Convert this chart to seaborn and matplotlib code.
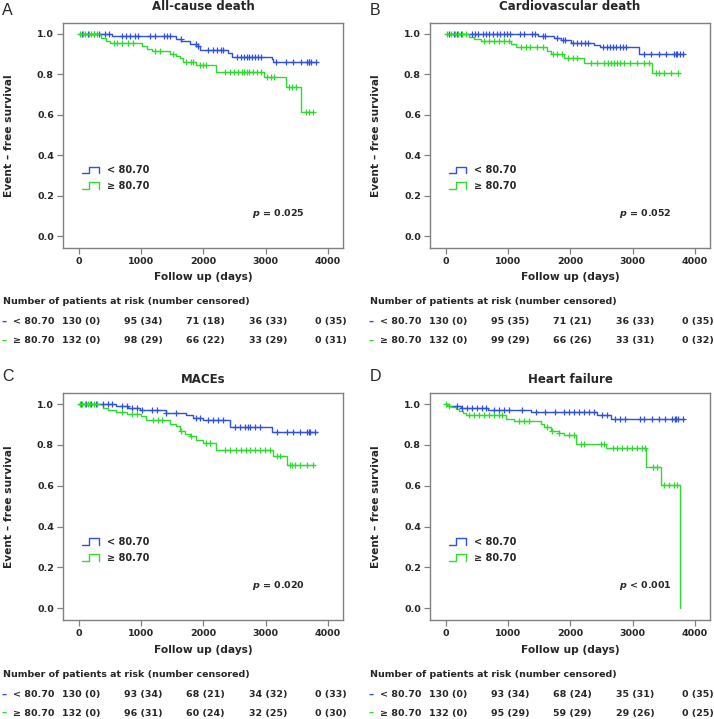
import numpy as np
import matplotlib
matplotlib.use("Agg")
import matplotlib.pyplot as plt
import matplotlib.transforms as mtransforms
from matplotlib.lines import Line2D
from matplotlib.legend_handler import HandlerBase
import seaborn as sns

# ==========================================
# DATA
# ==========================================

groups = ["< 80.70", "\u2265 80.70"]
x_ticks = [0, 1000, 2000, 3000, 4000]
y_ticks = [0.0, 0.2, 0.4, 0.6, 0.8, 1.0]

titles = ["All-cause death", "Cardiovascular death", "MACEs", "Heart failure"]
letters = ["A", "B", "C", "D"]
p_texts = ["= 0.025", "= 0.052", "= 0.020", "< 0.001"]

# --- A: all-cause death ---
a_lo_t = [0, 540, 1560, 1650, 1780, 1890, 1950, 2400, 2460, 3095, 3120]
a_lo_s = [1.0, 0.99, 0.977, 0.966, 0.95, 0.94, 0.921, 0.905, 0.887, 0.875, 0.862]
a_lo_end = 3818
a_lo_cens = [60, 150, 250, 330, 420, 480, 700, 760, 830, 900, 960, 1150, 1220,
             1370, 1420, 1460, 1640, 1880, 1910, 2080, 2150, 2220, 2280, 2310,
             2540, 2600, 2650, 2700, 2730, 2780, 2830, 2880, 2920, 3170, 3330,
             3440, 3560, 3660, 3690, 3700, 3720, 3800]
a_hi_t = [0, 360, 440, 500, 1010, 1100, 1180, 1460, 1570, 1620, 1680, 1890,
          2200, 2980, 3330, 3570]
a_hi_s = [1.0, 0.982, 0.966, 0.957, 0.941, 0.925, 0.917, 0.9, 0.892, 0.88,
          0.862, 0.846, 0.81, 0.785, 0.736, 0.616]
a_hi_end = 3764
a_hi_cens = [20, 70, 110, 160, 200, 240, 290, 560, 620, 700, 790, 880, 1230,
             1300, 1520, 1720, 1800, 1840, 1940, 2000, 2040, 2350, 2420, 2490,
             2560, 2620, 2660, 2700, 2740, 2800, 2860, 2920, 3020, 3080, 3140,
             3380, 3430, 3490, 3640, 3700, 3760]
a_lo_risk = [130, 95, 71, 36, 0]
a_lo_cen = [0, 34, 18, 33, 35]
a_hi_risk = [132, 98, 66, 33, 0]
a_hi_cen = [0, 29, 22, 29, 31]

# --- B: cardiovascular death ---
b_lo_t = [0, 1480, 1740, 1850, 2010, 2380, 2470, 3100]
b_lo_s = [1.0, 0.99, 0.98, 0.969, 0.957, 0.945, 0.933, 0.903]
b_lo_end = 3819
b_lo_cens = [60, 130, 190, 250, 420, 470, 520, 600, 650, 700, 760, 820, 880,
             940, 990, 1030, 1190, 1250, 1390, 1440, 1560, 1600, 1780, 1880,
             1920, 2050, 2110, 2170, 2230, 2290, 2530, 2590, 2640, 2690, 2740,
             2800, 2850, 2900, 3180, 3300, 3420, 3540, 3660, 3690, 3710, 3760,
             3800]
b_hi_t = [0, 380, 460, 560, 1045, 1125, 1632, 1685, 1899, 2219, 3312]
b_hi_s = [1.0, 0.985, 0.974, 0.966, 0.949, 0.935, 0.916, 0.9, 0.883, 0.856,
          0.806]
b_hi_end = 3765
b_hi_cens = [30, 90, 150, 200, 260, 320, 620, 700, 780, 860, 940, 1010, 1210,
             1290, 1350, 1470, 1560, 1720, 1790, 1870, 1960, 2040, 2110, 2330,
             2430, 2540, 2600, 2650, 2700, 2750, 2800, 2860, 2960, 3070, 3180,
             3260, 3380, 3420, 3500, 3610, 3720]
b_lo_risk = [130, 95, 71, 36, 0]
b_lo_cen = [0, 35, 21, 33, 35]
b_hi_risk = [132, 99, 66, 33, 0]
b_hi_cen = [0, 29, 26, 31, 32]

# --- C: MACEs ---
c_lo_t = [0, 600, 800, 980, 1400, 1730, 1840, 2000, 2430, 3095]
c_lo_s = [1.0, 0.988, 0.98, 0.969, 0.956, 0.944, 0.933, 0.92, 0.889, 0.865]
c_lo_end = 3818
c_lo_cens = [40, 120, 200, 280, 390, 470, 540, 690, 770, 850, 930, 1010, 1170,
             1250, 1400, 1570, 1890, 1950, 2080, 2160, 2240, 2320, 2510, 2590,
             2670, 2720, 2750, 2830, 2910, 3180, 3340, 3440, 3550, 3660, 3690,
             3710, 3790]
c_hi_t = [0, 390, 470, 600, 770, 1007, 1087, 1462, 1569, 1622, 1703, 1783,
          1890, 1997, 2211, 3122, 3336]
c_hi_s = [1.0, 0.982, 0.969, 0.961, 0.953, 0.939, 0.92, 0.904, 0.89, 0.87,
          0.854, 0.841, 0.825, 0.808, 0.777, 0.747, 0.701]
c_hi_end = 3791
c_hi_cens = [20, 60, 100, 150, 190, 250, 300, 690, 850, 930, 1200, 1270, 1330,
             1640, 1810, 2050, 2100, 2350, 2430, 2530, 2610, 2690, 2750, 2830,
             2910, 2990, 3070, 3180, 3230, 3390, 3420, 3470, 3550, 3660, 3760]
c_lo_risk = [130, 93, 68, 34, 0]
c_lo_cen = [0, 34, 21, 32, 33]
c_hi_risk = [132, 96, 60, 32, 0]
c_hi_cen = [0, 31, 24, 25, 30]

# --- D: heart failure ---
d_lo_t = [0, 60, 150, 250, 680, 1370, 2430, 2660]
d_lo_s = [1.0, 0.992, 0.988, 0.982, 0.972, 0.961, 0.944, 0.925]
d_lo_end = 3819
d_lo_cens = [190, 270, 350, 430, 510, 590, 640, 780, 860, 940, 1020, 1230,
             1450, 1600, 1760, 1900, 1980, 2060, 2140, 2220, 2300, 2380, 2510,
             2590, 2720, 2800, 2880, 3120, 3180, 3310, 3420, 3520, 3630, 3680,
             3700, 3720, 3800]
d_hi_t = [0, 29, 85, 165, 219, 272, 325, 965, 1099, 1525, 1579, 1685, 1819,
          1899, 2085, 2580, 3221, 3456, 3760]
d_hi_s = [1.0, 0.992, 0.984, 0.975, 0.967, 0.954, 0.944, 0.928, 0.916, 0.9,
          0.887, 0.87, 0.857, 0.846, 0.805, 0.785, 0.69, 0.605, 0.0]
d_hi_end = 3760
d_hi_cens = [10, 60, 380, 460, 540, 620, 700, 780, 860, 910, 1180, 1260, 1340,
             1630, 1710, 1820, 1980, 2060, 2170, 2220, 2490, 2540, 2680, 2750,
             2830, 2910, 2990, 3070, 3150, 3200, 3330, 3390, 3500, 3580, 3660,
             3710]
d_lo_risk = [130, 93, 68, 35, 0]
d_lo_cen = [0, 34, 24, 31, 35]
d_hi_risk = [132, 95, 59, 29, 0]
d_hi_cen = [0, 29, 29, 26, 25]

panels = [
    [(a_lo_t, a_lo_s, a_lo_end, a_lo_cens, a_lo_risk, a_lo_cen),
     (a_hi_t, a_hi_s, a_hi_end, a_hi_cens, a_hi_risk, a_hi_cen)],
    [(b_lo_t, b_lo_s, b_lo_end, b_lo_cens, b_lo_risk, b_lo_cen),
     (b_hi_t, b_hi_s, b_hi_end, b_hi_cens, b_hi_risk, b_hi_cen)],
    [(c_lo_t, c_lo_s, c_lo_end, c_lo_cens, c_lo_risk, c_lo_cen),
     (c_hi_t, c_hi_s, c_hi_end, c_hi_cens, c_hi_risk, c_hi_cen)],
    [(d_lo_t, d_lo_s, d_lo_end, d_lo_cens, d_lo_risk, d_lo_cen),
     (d_hi_t, d_hi_s, d_hi_end, d_hi_cens, d_hi_risk, d_hi_cen)],
]

# ==========================================
# STYLE
# ==========================================

sns.set_style("white")
plt.rcParams['font.family'] = ['DejaVu Sans']
plt.rcParams['mathtext.fontset'] = 'dejavusans'

colors = ["#3050E0", "#2EDC2E"]
GRAY = "#808080"
FS = 6.8


class StepKey(HandlerBase):
    # little step-shaped legend key, like the R survival plot
    def create_artists(self, legend, orig_handle, xdescent, ydescent,
                       width, height, fontsize, trans):
        x0, y0 = -xdescent, -ydescent
        xm = x0 + 0.38 * width
        xs = [x0, xm, xm, x0 + width, x0 + width]
        ys = [y0, y0, y0 + height, y0 + height, y0]
        return [Line2D(xs, ys, color=orig_handle.get_color(), lw=1.0,
                       transform=trans)]


def km_curve(ax, times, surv, end, cens, color):
    t = list(times) + [end]
    s = list(surv) + [surv[-1]]
    sns.lineplot(x=t, y=s, drawstyle='steps-post', color=color, lw=1.0,
                 estimator=None, sort=False, legend=False, ax=ax)
    idx = np.searchsorted(times, cens, side='right') - 1
    cy = np.array(surv)[idx]
    sns.scatterplot(x=cens, y=cy, marker='+', color=color, s=20,
                    linewidth=0.9, legend=False, ax=ax, zorder=3)


# ==========================================
# FIGURE
# ==========================================

fig = plt.figure(figsize=(7.14, 7.19), dpi=100)

col_left = [63 / 714, 430 / 714]
ax_w = 280 / 714
row_bottom = [1 - 248 / 719, 1 - 620 / 719]
row_h = [225 / 719, 227 / 719]
title_pad = [9.0, 7.5]
letter_y = [1 - 15 / 719, 1 - 381 / 719]
letter_x = [2 / 714, 370 / 714]

for i, panel in enumerate(panels):
    r, c = divmod(i, 2)
    ax = fig.add_axes([col_left[c], row_bottom[r], ax_w, row_h[r]])

    for g, (t, s, end, cens, risk, cen) in enumerate(panel):
        km_curve(ax, t, s, end, cens, colors[g])

    ax.set_xlim(-250, 4240)
    ax.set_ylim(-0.058, 1.054)
    ax.set_xticks(x_ticks)
    ax.set_yticks(y_ticks)
    ax.set_xticklabels([str(v) for v in x_ticks], fontsize=FS, fontweight='bold')
    ax.set_yticklabels(["%.1f" % v for v in y_ticks], fontsize=FS, fontweight='bold')
    ax.tick_params(direction='out', length=4, width=0.9, color=GRAY, pad=2.5,
                   bottom=True, left=True)
    for sp in ax.spines.values():
        sp.set_color(GRAY)
        sp.set_linewidth(1.0)

    ax.set_xlabel("Follow up (days)", fontsize=7.7, fontweight='bold')
    ax.set_ylabel("Event \u2013 free survival", fontsize=7.7, fontweight='bold')
    ax.xaxis.set_label_coords(0.5, -0.108)
    ax.yaxis.set_label_coords(-0.176, 0.5)
    ax.set_title(titles[i], fontsize=8.5, fontweight='bold', pad=title_pad[r])

    fig.text(letter_x[c], letter_y[r], letters[i], fontsize=11.5,
             family='Liberation Sans', va='baseline', ha='left')

    # legend with step keys
    handles = [Line2D([], [], color=col) for col in colors]
    ax.legend(handles, groups, handler_map={Line2D: StepKey()},
              loc='center left', bbox_to_anchor=(0.068, 0.31),
              frameon=False, prop={'weight': 'bold', 'size': 7},
              handlelength=1.75, handleheight=0.7, handletextpad=0.8,
              labelspacing=0.6, borderpad=0, borderaxespad=0)

    ax.text(0.675, 0.152, r"$\mathbfit{p}$ " + p_texts[i],
            transform=ax.transAxes, fontsize=FS, fontweight='bold',
            va='center', ha='left')

    # number at risk table
    tr = mtransforms.blended_transform_factory(ax.transData, ax.transAxes)
    ax.text(-0.214, -0.24, "Number of patients at risk (number censored)",
            transform=ax.transAxes, fontsize=FS, fontweight='bold',
            va='center', ha='left')
    row_y = [-0.328, -0.41]
    for g, (t, s, end, cens, risk, cen) in enumerate(panel):
        ax.text(-0.218, row_y[g], "\u2013", transform=ax.transAxes,
                fontsize=7.5, fontweight='bold', color=colors[g],
                va='center', ha='left')
        ax.text(-0.179, row_y[g], groups[g], transform=ax.transAxes,
                fontsize=FS, fontweight='bold', va='center', ha='left')
        for xv, n, k in zip(x_ticks, risk, cen):
            ax.text(xv + 40, row_y[g], "%d (%d)" % (n, k), transform=tr,
                    fontsize=FS, fontweight='bold', va='center', ha='center')

fig.savefig("out.png", dpi=100)
